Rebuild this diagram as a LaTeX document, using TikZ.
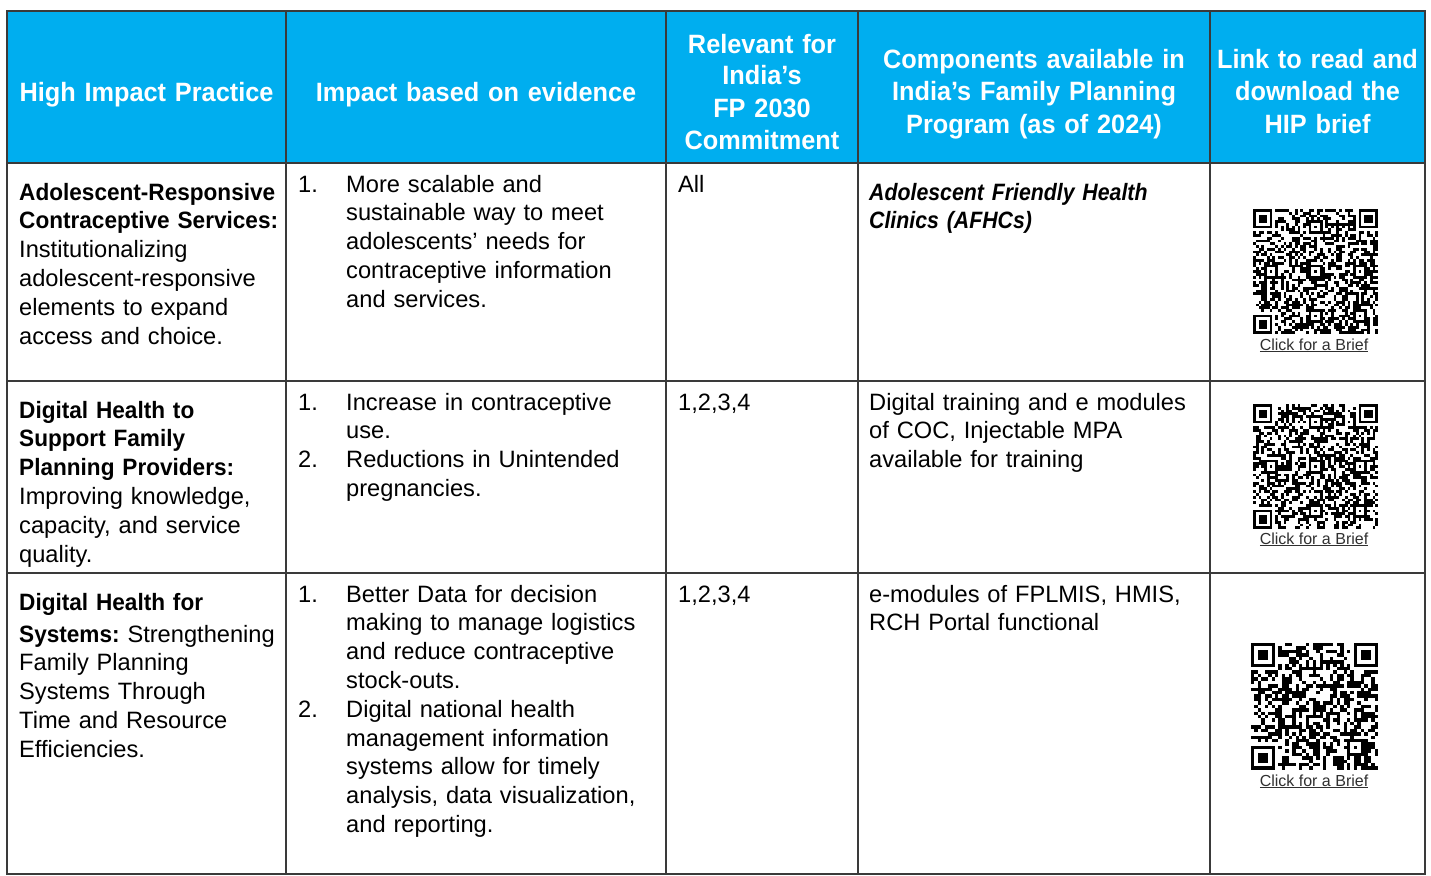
\documentclass[tikz,border=0pt]{standalone}
\usepackage{fontspec}
\setmainfont{Liberation Sans}[BoldFeatures={FakeStretch=0.955},BoldItalicFeatures={FakeStretch=0.9}]
\usepackage{tikz}
\definecolor{hipblue}{HTML}{00AEEF}
\definecolor{gridgray}{HTML}{3A3A3A}
\definecolor{linkgray}{HTML}{303030}
\newcommand{\qrpattern}[5]{%
  % #1 左上角, #2 模块数, #3 模块尺寸, #4 随机种子, #5 校正图形位置
  \begin{scope}[shift={#1}, x=#3, y=-#3]
    \pgfmathsetseed{#4}
    % 随机数据模块
    \foreach \i in {1,...,#2}{
      \foreach \j in {1,...,#2}{
        \pgfmathrandominteger{\qrbit}{0}{1}
        \ifnum\qrbit=1 \fill (\i-1,\j-1) rectangle ++(1,1); \fi
      }
    }
    % 定时图形
    \pgfmathtruncatemacro{\qrlast}{#2-9}
    \fill[white] (8,6) rectangle (#2-8,7);
    \fill[white] (6,8) rectangle (7,#2-8);
    \foreach \k in {8,10,...,\qrlast}{
      \fill (\k,6) rectangle ++(1,1);
      \fill (6,\k) rectangle ++(1,1);
    }
    % 三个定位图形
    \pgfmathtruncatemacro{\qrend}{#2-7}
    \foreach \qa/\qb in {0/0, \qrend/0, 0/\qrend}{
      \fill[white] (\qa-1,\qb-1) rectangle ++(9,9);
      \fill (\qa,\qb) rectangle ++(7,7);
      \fill[white] (\qa+1,\qb+1) rectangle ++(5,5);
      \fill (\qa+2,\qb+2) rectangle ++(3,3);
    }
    % 校正图形
    \foreach \qa/\qb in {#5}{
      \fill (\qa-2,\qb-2) rectangle ++(5,5);
      \fill[white] (\qa-1,\qb-1) rectangle ++(3,3);
      \fill (\qa,\qb) rectangle ++(1,1);
    }
  \end{scope}
}
\begin{document}
\begin{tikzpicture}[
  x=1pt, y=-1pt,
  gridline/.style={line width=1.6pt, draw=gridgray},
  headtxt/.style={anchor=base, inner sep=0pt, text=white, align=center,
    font=\fontsize{26.5}{32}\selectfont\bfseries},
  celltxt/.style={anchor=base west, inner sep=0pt, align=left,
    font=\fontsize{23.65}{28.8}\selectfont},
  brieftxt/.style={anchor=base, inner sep=0pt, text=linkgray,
    font=\fontsize{16}{19}\selectfont},
  ]
  \useasboundingbox (0,0) rectangle (1431,875);

  % 表头底色
  \fill[hipblue] (7,11) rectangle (1425,163);

  % 表格线
  \draw[gridline] (7,11) rectangle (1425,874);
  \foreach \y in {163,381,573}
    \draw[gridline] (7,\y) -- (1425,\y);
  \foreach \x in {286,666,858,1210}
    \draw[gridline] (\x,11) -- (\x,874);

  % 表头
  \node[headtxt, text width=270pt] (hd1) at (146.5,101) {High Impact Practice};
  \node[headtxt, text width=360pt] (hd2) at (476,101) {Impact based on evidence};
  \node[headtxt, text width=180pt] (hd3) at (762,53) {Relevant for\\India’s\\FP 2030\\Commitment};
  \node[headtxt, text width=340pt] (hd4) at (1034,69) {Components available in\\India’s Family Planning\\Program (as of 2024)};
  \node[headtxt, text width=205pt] (hd5) at (1317.5,69) {Link to read and\\download the\\HIP brief};

  % 第1行
  \node[celltxt, text width=265pt] (hip1) at (19,200) {\textbf{Adolescent-Responsive\\Contraceptive Services:}\\Institutionalizing\\adolescent-responsive\\elements to expand\\access and choice.};
  \node[celltxt] (num11) at (298,192) {1.};
  \node[celltxt, text width=310pt] (imp1) at (346,192) {More scalable and\\sustainable way to meet\\adolescents’ needs for\\contraceptive information\\and services.};
  \node[celltxt] (rel1) at (678,192) {All};
  \node[celltxt, text width=335pt] (comp1) at (869,200) {\textbf{\textit{Adolescent Friendly Health\\Clinics (AFHCs)}}};

  % 第2行
  \node[celltxt, text width=265pt] (hip2) at (19,418) {\textbf{Digital Health to\\Support Family\\Planning Providers:}\\Improving knowledge,\\capacity, and service\\quality.};
  \node[celltxt] (num21) at (298,410) {1.};
  \node[celltxt] (num22) at (298,467.6) {2.};
  \node[celltxt, text width=310pt] (imp2) at (346,410) {Increase in contraceptive\\use.\\Reductions in Unintended\\pregnancies.};
  \node[celltxt] (rel2) at (678,410) {1,2,3,4};
  \node[celltxt, text width=335pt] (comp2) at (869,410) {Digital training and e modules\\of COC, Injectable MPA\\available for training};

  % 第3行
  \node[celltxt, text width=265pt] (hip3) at (19,610) {\textbf{Digital Health for}\\[3.2pt]\textbf{Systems:}\ Strengthening\\Family Planning\\Systems Through\\Time and Resource\\Efficiencies.};
  \node[celltxt] (num31) at (298,602) {1.};
  \node[celltxt] (num32) at (298,717.2) {2.};
  \node[celltxt, text width=310pt] (imp3) at (346,602) {Better Data for decision\\making to manage logistics\\and reduce contraceptive\\stock-outs.\\Digital national health\\management information\\systems allow for timely\\analysis, data visualization,\\and reporting.};
  \node[celltxt] (rel3) at (678,602) {1,2,3,4};
  \node[celltxt, text width=335pt] (comp3) at (869,602) {e-modules of FPLMIS, HMIS,\\RCH Portal functional};

  % 二维码
  \coordinate (qr1) at (1253,209);
  \coordinate (qr2) at (1253,404);
  \coordinate (qr3) at (1251,643);
  \qrpattern{(qr1)}{45}{2.78pt}{17}{6/22,22/6,22/22,22/38,38/22,38/38}
  \qrpattern{(qr2)}{45}{2.78pt}{42}{6/22,22/6,22/22,22/38,38/22,38/38}
  \qrpattern{(qr3)}{37}{3.43pt}{93}{30/30}

  % 链接文字
  \node[brieftxt] (brief1) at (1314,350) {\underline{Click for a Brief}};
  \node[brieftxt] (brief2) at (1314,544) {\underline{Click for a Brief}};
  \node[brieftxt] (brief3) at (1314,786) {\underline{Click for a Brief}};
\end{tikzpicture}
\end{document}
